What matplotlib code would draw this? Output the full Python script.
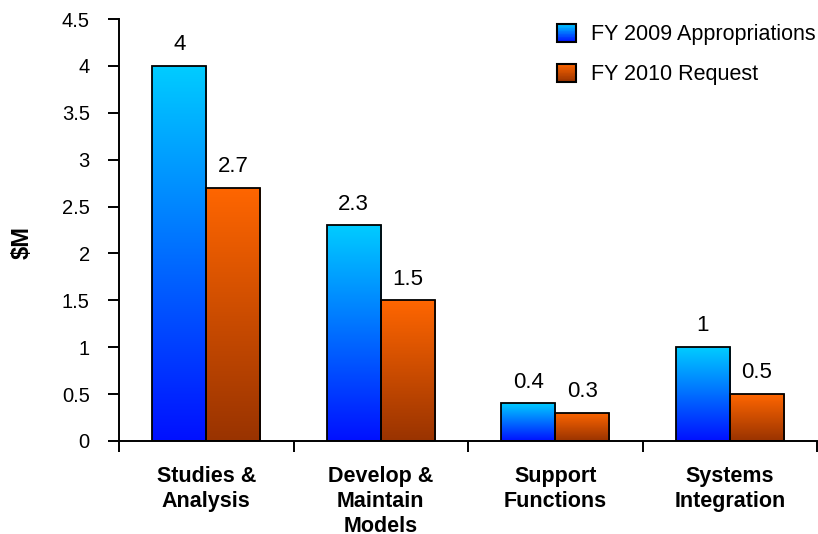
import numpy as np
import matplotlib
matplotlib.use("Agg")
import matplotlib.pyplot as plt
from matplotlib.colors import LinearSegmentedColormap
from matplotlib.patches import Patch, Rectangle
from matplotlib.legend_handler import HandlerBase

plt.rcParams['font.family'] = ['Liberation Sans', 'DejaVu Sans']

categories = ["Studies &\nAnalysis", "Develop &\nMaintain\nModels",
              "Support\nFunctions", "Systems\nIntegration"]
fy2009 = [4, 2.3, 0.4, 1]
fy2010 = [2.7, 1.5, 0.3, 0.5]
series_names = ["FY 2009 Appropriations", "FY 2010 Request"]

blue_cmap = LinearSegmentedColormap.from_list("b", ["#0010ff", "#00ccff"])
orange_cmap = LinearSegmentedColormap.from_list("o", ["#993300", "#ff6600"])


class GradHandler(HandlerBase):
    # legend swatch drawn as stacked strips so it has the same gradient as the bars
    def __init__(self, cmap):
        super().__init__()
        self.cmap = cmap

    def create_artists(self, legend, orig_handle, xdescent, ydescent, width,
                       height, fontsize, trans):
        arts = []
        n = 24
        for i in range(n):
            arts.append(Rectangle((-xdescent, -ydescent + height * i / n), width,
                                  height / n * 1.05, facecolor=self.cmap((i + 0.5) / n),
                                  edgecolor="none", transform=trans))
        arts.append(Rectangle((-xdescent, -ydescent), width, height, facecolor="none",
                              edgecolor="black", linewidth=1.5, transform=trans))
        return arts


fig = plt.figure(figsize=(8.18, 5.34), dpi=100)
ax = fig.add_axes([0.1455, 0.1742, 0.8533, 0.790])

x = np.arange(len(categories))
w = 0.31
grad = np.linspace(0, 1, 256).reshape(-1, 1)


def gradient_bars(xs, vals, cmap):
    bars = ax.bar(xs, vals, w, color="none", edgecolor="black", linewidth=1.3, zorder=3)
    for b in bars:
        x0, y0 = b.get_x(), b.get_y()
        im = ax.imshow(grad, cmap=cmap, origin="lower", aspect="auto",
                       extent=[x0, x0 + b.get_width(), y0, y0 + b.get_height()], zorder=2)
        im.set_clip_path(b)
    return bars


b1 = gradient_bars(x - w / 2, fy2009, blue_cmap)
b2 = gradient_bars(x + w / 2, fy2010, orange_cmap)

for bars, vals in ((b1, fy2009), (b2, fy2010)):
    for b, v in zip(bars, vals):
        ax.text(b.get_x() + b.get_width() / 2, v + 0.115, f"{v:g}",
                ha="center", va="bottom", fontsize=16)

ax.set_xlim(-0.5, len(categories) - 0.5)
ax.set_ylim(0, 4.5)
yt = np.arange(0, 4.51, 0.5)
ax.set_yticks(yt)
ax.set_yticklabels([f"{t:g}" for t in yt], fontsize=14.5)
ax.set_xticks(np.arange(-0.5, len(categories), 1))
ax.set_xticklabels([])
ax.tick_params(axis="x", length=8, width=1.4, direction="out")
ax.tick_params(axis="y", length=8, width=1.4, direction="out", pad=13)
for i, c in enumerate(categories):
    ax.text(i, -0.27, c, ha="center", va="top", fontsize=15.5, fontweight="bold",
            linespacing=1.25)

ax.spines["top"].set_visible(False)
ax.spines["right"].set_visible(False)
ax.spines["left"].set_linewidth(1.4)
ax.spines["bottom"].set_linewidth(1.4)
ax.set_ylabel("$M", fontsize=17, fontweight="bold")
ax.yaxis.set_label_coords(-0.122, 0.47)

handles = [Patch(facecolor="#0a88ff", edgecolor="black"),
           Patch(facecolor="#cc4d00", edgecolor="black")]
ax.legend(handles, series_names, loc="upper left", bbox_to_anchor=(557 / 818, 1 - 24 / 534),
          bbox_transform=fig.transFigure, frameon=False, fontsize=15.5,
          handlelength=0.9, handleheight=0.9, handletextpad=0.7, labelspacing=0.85,
          borderpad=0, borderaxespad=0,
          handler_map={handles[0]: GradHandler(blue_cmap), handles[1]: GradHandler(orange_cmap)})

fig.savefig("out.png", dpi=100)
